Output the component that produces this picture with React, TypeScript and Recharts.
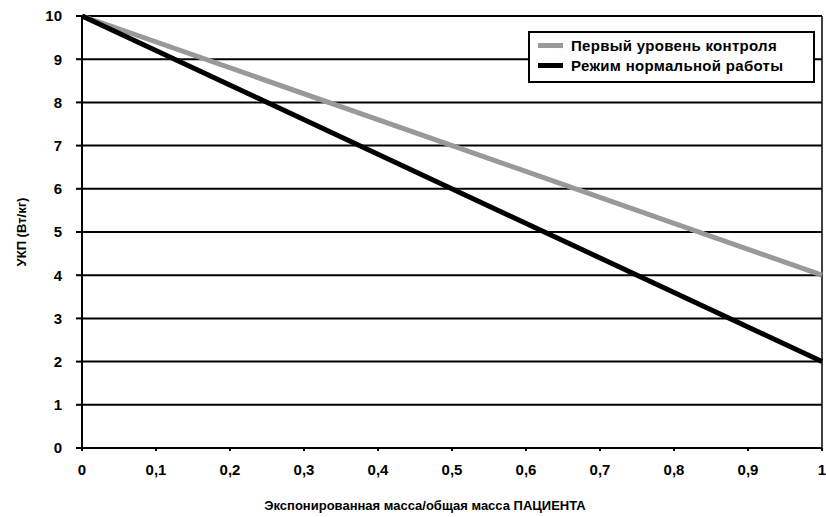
import { LineChart, Line, XAxis, YAxis, CartesianGrid, ReferenceLine } from 'recharts';

const xValues = [0, 1];
const firstLevel = [10, 4];
const normalMode = [10, 2];
const xTicks = [0, 0.1, 0.2, 0.3, 0.4, 0.5, 0.6, 0.7, 0.8, 0.9, 1];
const yTicks = [0, 1, 2, 3, 4, 5, 6, 7, 8, 9, 10];

const SERIES = [
  { key: 'first', label: 'Первый уровень контроля', color: '#999999', width: 5 },
  { key: 'normal', label: 'Режим нормальной работы', color: '#000000', width: 5 },
];

const data = xValues.map((x, i) => ({ x, first: firstLevel[i], normal: normalMode[i] }));

const FONT = '"Liberation Sans", Arial, sans-serif';

// legend drawn as an overlay box in the top-right corner
function LegendBox() {
  return (
    <div
      style={{
        position: 'absolute',
        left: 528,
        top: 31,
        width: 287,
        height: 52,
        border: '2px solid #000',
        background: '#fff',
        boxSizing: 'border-box',
        padding: '2px 0 0 8px',
        fontFamily: FONT,
        fontWeight: 'bold',
        fontSize: 15,
        letterSpacing: 0.3,
        color: '#000',
      }}
    >
      {SERIES.map(s => (
        <div key={s.key} style={{ display: 'flex', alignItems: 'center', height: 20 }}>
          <span style={{ display: 'inline-block', width: 25, height: 5, background: s.color, marginRight: 8 }} />
          <span style={{ whiteSpace: 'nowrap' }}>{s.label}</span>
        </div>
      ))}
    </div>
  );
}

export default function App() {
  return (
    <div style={{ position: 'absolute', left: 0, top: 0, width: 826, height: 517, background: '#fff' }}>
      <LineChart width={826} height={517} data={data} margin={{ top: 16, right: 4, left: 0, bottom: 29 }}>
        <CartesianGrid vertical={false} stroke="#000" strokeWidth={2} />
        <XAxis
          dataKey="x"
          type="number"
          domain={[0, 1]}
          ticks={xTicks}
          tickFormatter={(v: number) => String(v).replace('.', ',')}
          axisLine={{ stroke: '#000', strokeWidth: 2 }}
          tickLine={{ stroke: '#000', strokeWidth: 2 }}
          tickSize={3}
          height={40}
          tick={{ fill: '#000', fontSize: 15, fontWeight: 'bold', fontFamily: FONT, dy: 11 }}
        />
        <YAxis
          domain={[0, 10]}
          ticks={yTicks}
          width={82}
          axisLine={{ stroke: '#000', strokeWidth: 2 }}
          tickLine={{ stroke: '#000', strokeWidth: 2 }}
          tickSize={6}
          tick={{ fill: '#000', fontSize: 15, fontWeight: 'bold', fontFamily: FONT, dx: -12 }}
        />
        <ReferenceLine x={1} stroke="#000" strokeWidth={1.5} />
        {SERIES.map(s => (
          <Line
            key={s.key}
            dataKey={s.key}
            stroke={s.color}
            strokeWidth={s.width}
            dot={false}
            type="linear"
            isAnimationActive={false}
          />
        ))}
        <text x={21} y={232} transform="rotate(-90 21 232)" textAnchor="middle" dominantBaseline="central"
          style={{ fontFamily: FONT, fontWeight: 'bold', fontSize: 13, fill: '#000' }}>
          УКП (Вт/кг)
        </text>
        <text x={425} y={510} textAnchor="middle"
          style={{ fontFamily: FONT, fontWeight: 'bold', fontSize: 13, fill: '#000' }}>
          Экспонированная масса/общая масса ПАЦИЕНТА
        </text>
      </LineChart>
      <LegendBox />
    </div>
  );
}
